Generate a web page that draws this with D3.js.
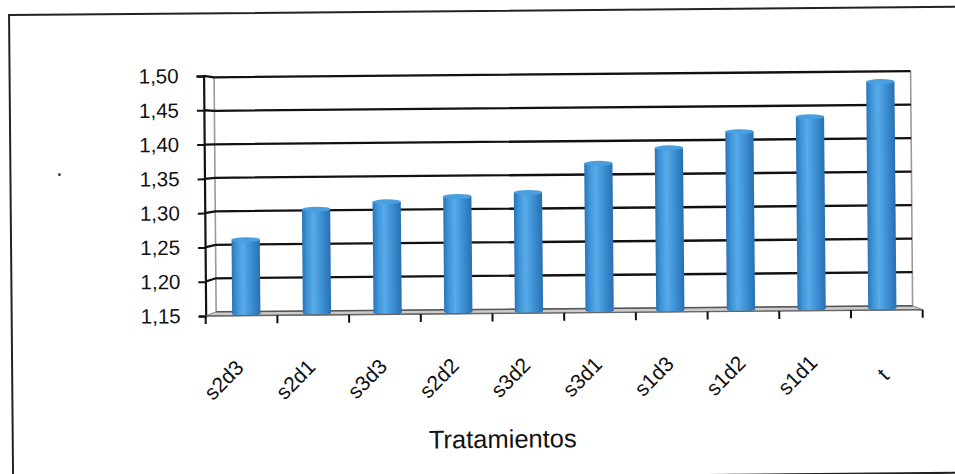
<!DOCTYPE html>
<html>
<head>
<meta charset="utf-8">
<script src="https://cdn.jsdelivr.net/npm/d3@7/dist/d3.min.js"></script>
<style>
  html, body { margin: 0; padding: 0; background: #ffffff; }
  svg { display: block; }
  text { font-family: "Liberation Sans", Arial, sans-serif; fill: #111; }
</style>
</head>
<body>
<svg id="chart" width="955" height="474"></svg>
<script>
// Treatment means, sorted ascending
const categories = ["s2d3", "s2d1", "s3d3", "s2d2", "s3d2", "s3d1", "s1d3", "s1d2", "s1d1", "t"];
const values = [1.259, 1.303, 1.313, 1.320, 1.325, 1.367, 1.389, 1.412, 1.433, 1.484];
const yTicks = [1.15, 1.20, 1.25, 1.30, 1.35, 1.40, 1.45, 1.50];
const xTitle = "Tratamientos";

const svg = d3.select("#chart");
const defs = svg.append("defs");

// cylinder shading
const grad = defs.append("linearGradient").attr("id", "cyl")
  .attr("x1", "0%").attr("x2", "100%").attr("y1", "0%").attr("y2", "0%");
[["0%", "#2a74b8"], ["18%", "#3f95d8"], ["40%", "#58abe8"], ["65%", "#3f93d6"], ["100%", "#2870b2"]]
  .forEach(([o, c]) => grad.append("stop").attr("offset", o).attr("stop-color", c));

const root = svg.append("g").attr("transform", "rotate(-0.5, 477, 237)");

// outer frame
root.append("rect")
  .attr("x", 11).attr("y", 11).attr("width", 960).attr("height", 466)
  .attr("fill", "none").attr("stroke", "#222").attr("stroke-width", 2);

// stray mark on the left
root.append("circle").attr("cx", 60).attr("cy", 171).attr("r", 1.3).attr("fill", "#222");

const domainY = [yTicks[0], yTicks[yTicks.length - 1]];
// front plane, back wall, and mid-depth (bars) scales
const yFront = d3.scaleLinear().domain(domainY).range([313.6, 73.6]);
const yBack  = d3.scaleLinear().domain(domainY).range([309.5, 75]);
const yMid   = d3.scaleLinear().domain(domainY).range([311.5, 74.3]);

const xFront = d3.scaleBand().domain(categories).range([205, 922]);
const xBack  = d3.scaleBand().domain(categories).range([215.5, 912]);
const xMid   = d3.scaleBand().domain(categories).range([210.3, 917]);

const backL = xBack.range()[0], backR = xBack.range()[1];
const frontL = xFront.range()[0], frontR = xFront.range()[1];

// floor
root.append("path")
  .attr("d", `M${frontL},${yFront(domainY[0])} L${backL},${yBack(domainY[0])} L${backR},${yBack(domainY[0])} L${frontR},${yFront(domainY[0])} Z`)
  .attr("fill", "#cbcbcb").attr("stroke", "#8a8a8a").attr("stroke-width", 1);

// back wall edges
root.append("line")
  .attr("x1", backL).attr("x2", backL)
  .attr("y1", yBack(domainY[1])).attr("y2", yBack(domainY[0]))
  .attr("stroke", "#9a9a9a").attr("stroke-width", 1.6);
root.append("line")
  .attr("x1", backR).attr("x2", backR)
  .attr("y1", yBack(domainY[1])).attr("y2", yBack(domainY[0]))
  .attr("stroke", "#9a9a9a").attr("stroke-width", 1.6);

// gridlines on the back wall plus the short links from the axis ticks
const grid = root.append("g");
yTicks.filter(t => t > domainY[0]).forEach(t => {
  grid.append("path")
    .attr("d", `M${frontL},${yFront(t)} L${backL},${yBack(t)} L${backR},${yBack(t)}`)
    .attr("fill", "none").attr("stroke", "#111").attr("stroke-width", 2.3);
});
grid.append("path")
  .attr("d", `M${backL},${yBack(domainY[0])} L${backR},${yBack(domainY[0])}`)
  .attr("stroke", "#555").attr("stroke-width", 1.4);

// bars as cylinders
const barW = xMid.bandwidth() * 0.4;
const ry = 2.5;
const bars = root.append("g").selectAll("g").data(categories.map((c, i) => ({ c, v: values[i] })))
  .join("g");
bars.append("ellipse")
  .attr("cx", d => xMid(d.c) + xMid.bandwidth() / 2)
  .attr("cy", yMid(domainY[0]))
  .attr("rx", barW / 2).attr("ry", ry)
  .attr("fill", "url(#cyl)");
bars.append("rect")
  .attr("x", d => xMid(d.c) + (xMid.bandwidth() - barW) / 2)
  .attr("y", d => yMid(d.v))
  .attr("width", barW)
  .attr("height", d => yMid(domainY[0]) - yMid(d.v))
  .attr("fill", "url(#cyl)");
bars.append("ellipse")
  .attr("cx", d => xMid(d.c) + xMid.bandwidth() / 2)
  .attr("cy", d => yMid(d.v))
  .attr("rx", barW / 2).attr("ry", ry)
  .attr("fill", "#4a9fe0");

// y axis
const yAxis = root.append("g").attr("transform", `translate(${frontL},0)`)
  .call(d3.axisLeft(yFront).tickValues(yTicks).tickSize(7).tickPadding(18)
    .tickFormat(d => d.toFixed(2).replace(".", ",")));
yAxis.select(".domain").attr("stroke", "#111").attr("stroke-width", 2.2);
yAxis.selectAll(".tick line").attr("stroke", "#111").attr("stroke-width", 2);
yAxis.selectAll(".tick text")
  .style("font-family", "'Liberation Sans', Arial, sans-serif")
  .style("font-size", "20.5px").attr("fill", "#111");

// x axis: front floor edge, boundary ticks, rotated labels
const axisY = yFront(domainY[0]);
root.append("line")
  .attr("x1", frontL).attr("x2", frontR).attr("y1", axisY).attr("y2", axisY)
  .attr("stroke", "#666").attr("stroke-width", 1.4);
const bounds = categories.map(c => xFront(c)).concat([frontR]);
root.append("g").selectAll("line").data(bounds).join("line")
  .attr("x1", d => d).attr("x2", d => d)
  .attr("y1", axisY).attr("y2", axisY + 8)
  .attr("stroke", "#111").attr("stroke-width", 2);

const xAxis = root.append("g").attr("transform", `translate(0,${axisY})`)
  .call(d3.axisBottom(xFront).tickSize(0).tickPadding(0));
xAxis.select(".domain").remove();

// rotated labels: each label's box sits with its right edge near the
// category centre and its vertical middle on a common line
const labelSize = 21;
const capH = 0.72 * labelSize;
const r2 = Math.SQRT2;
xAxis.selectAll(".tick text")
  .style("font-family", "'Liberation Sans', Arial, sans-serif")
  .style("font-size", labelSize + "px").attr("fill", "#111")
  .attr("text-anchor", "end")
  .attr("y", 0)
  .attr("dy", "0.36em")
  .attr("transform", function () {
    const L = this.getComputedTextLength();
    const ex = 3 - capH / (2 * r2);
    const ey = 64 - L / (2 * r2);
    return `translate(${ex},${ey}) rotate(-45)`;
  });

// axis title
root.append("text")
  .attr("x", 501).attr("y", 448)
  .attr("text-anchor", "middle")
  .style("font-size", "25.5px")
  .text(xTitle);
</script>
</body>
</html>
